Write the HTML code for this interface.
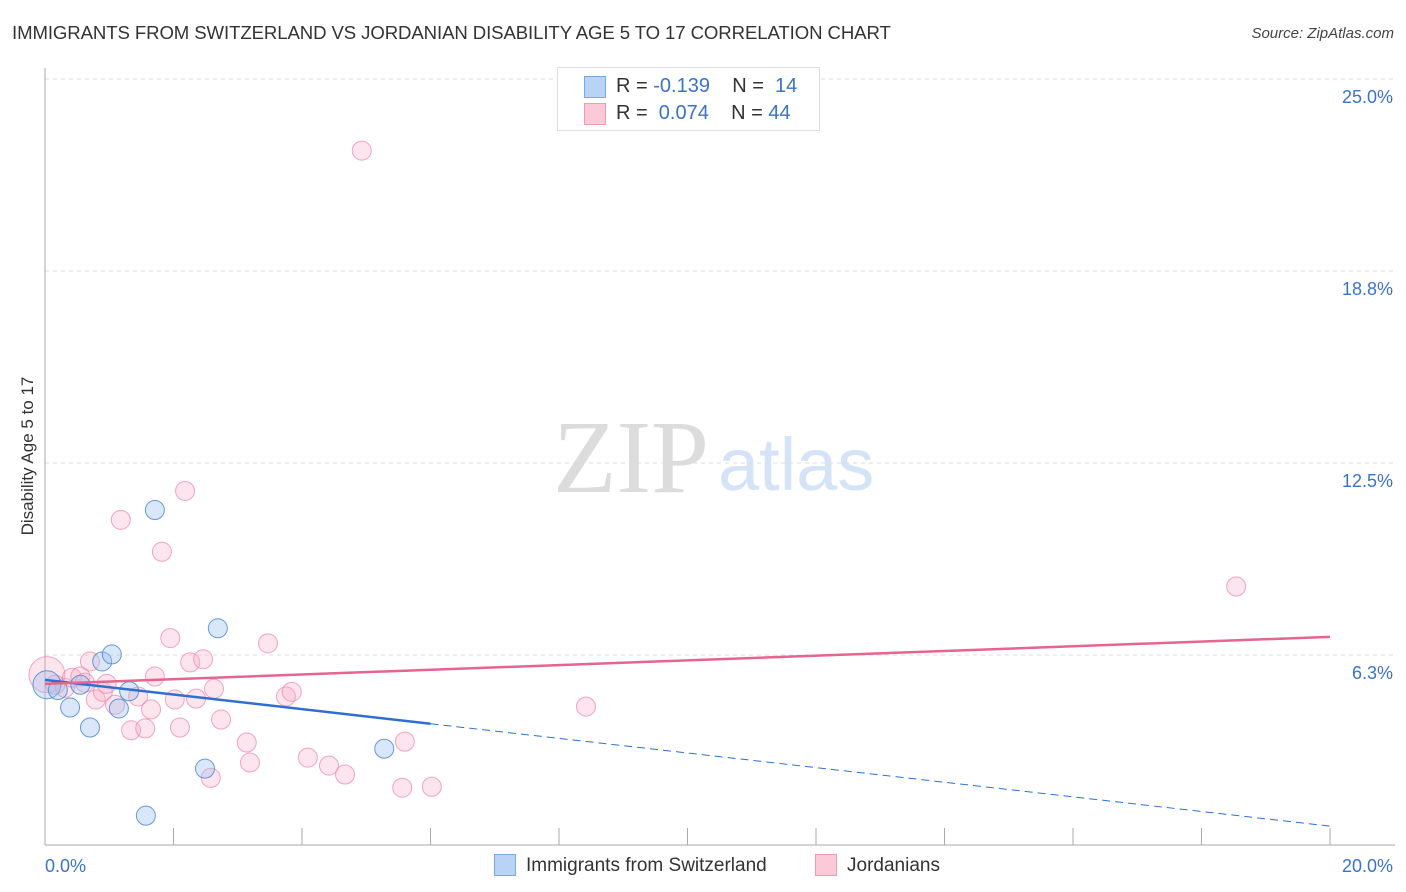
<!DOCTYPE html>
<html><head><meta charset="utf-8">
<style>
body{margin:0;background:#fff;font-family:"Liberation Sans",sans-serif;}
#wrap{position:relative;width:1406px;height:892px;overflow:hidden;}
.t{position:absolute;white-space:nowrap;}
</style></head>
<body>
<div id="wrap">
<div class="t" style="left:12px;top:22px;font-size:18.6px;color:#333;letter-spacing:-0.1px;">IMMIGRANTS FROM SWITZERLAND VS JORDANIAN DISABILITY AGE 5 TO 17 CORRELATION CHART</div>
<div class="t" style="right:12px;top:25px;font-size:15px;color:#444;font-style:italic;">Source: ZipAtlas.com</div>
<div class="t" style="left:28px;top:456px;font-size:17px;color:#333;transform:translate(-50%,-50%) rotate(-90deg);">Disability Age 5 to 17</div>
<svg id="plot" width="1406" height="892" style="position:absolute;left:0;top:0">
<text x="553" y="492" font-family="Liberation Serif,serif" font-size="104" fill="#dcdcdc">ZIP</text>
<text x="718" y="490" font-family="Liberation Sans,sans-serif" font-size="74" fill="#d4e3f5">atlas</text>
</svg>
<div style="position:absolute;left:557px;top:67px;width:261px;height:62px;border:1px solid #ddd;background:#fff;">
<div style="position:absolute;left:26px;top:8px;width:20px;height:20px;background:#b8d3f5;border:1px solid #7aa7e0;"></div>
<div class="t" style="left:58px;top:7px;font-size:20px;color:#333;">R = <span style="color:#3a73c9">-0.139</span>&nbsp;&nbsp;&nbsp; N = &nbsp;<span style="color:#3a73c9">14</span></div>
<div style="position:absolute;left:26px;top:35px;width:20px;height:20px;background:#fbc9d7;border:1px solid #f09ab4;"></div>
<div class="t" style="left:58px;top:34px;font-size:20px;color:#333;">R = &nbsp;<span style="color:#3a73c9">0.074</span>&nbsp;&nbsp;&nbsp; N = <span style="color:#3a73c9">44</span></div>
</div>
<div style="position:absolute;left:494px;top:854px;width:20px;height:20px;background:#b8d3f5;border:1px solid #7aa7e0;"></div>
<div class="t" style="left:526px;top:855px;font-size:19px;color:#333;">Immigrants from Switzerland</div>
<div style="position:absolute;left:815px;top:854px;width:20px;height:20px;background:#fbc9d7;border:1px solid #f09ab4;"></div>
<div class="t" style="left:847px;top:855px;font-size:19px;color:#333;">Jordanians</div>
</div>
<script>
const yTicks=[25,18.75,12.5,6.25];
const yTickLabels=["25.0%","18.8%","12.5%","6.3%"];
const xTicks=[0,2,4,6,8,10,12,14,16,18,20];
const xEndLabels=["0.0%","20.0%"];
const blueX=[0.03,0.2,0.55,0.39,0.7,0.89,1.04,1.15,1.31,1.71,2.69,2.49,1.57,5.28];
const blueY=[5.28,5.11,5.28,4.54,3.89,6.04,6.27,4.51,5.07,10.97,7.12,2.55,1.02,3.2];
const pinkX=[0.03,0.16,0.31,0.42,0.55,0.62,0.7,0.79,0.9,0.96,1.09,1.18,1.34,1.45,1.56,1.65,1.71,1.82,1.95,2.02,2.1,2.18,2.26,2.35,2.46,2.58,2.63,2.74,3.14,3.19,3.47,3.75,3.84,4.09,4.42,4.67,4.93,5.56,5.6,6.02,8.42,18.54];
const pinkY=[5.61,5.28,5.18,5.51,5.55,5.35,6.04,4.8,5.05,5.31,4.63,10.65,3.8,4.9,3.86,4.48,5.55,9.61,6.8,4.8,3.89,11.59,6.01,4.83,6.11,2.25,5.15,4.15,3.4,2.75,6.63,4.9,5.05,2.91,2.65,2.36,22.67,1.93,3.43,1.96,4.57,8.48];
const blueFit=[5.44,0.68];
const pinkFit=[5.31,6.84];
const X0=45,X1=1330,Y0=847,PXY=30.72;
const sx=v=>X0+(v/20)*(X1-X0);
const sy=v=>Y0-v*PXY;
const svg=document.getElementById('plot');
const NS='http://www.w3.org/2000/svg';
function mk(tag,attrs){const e=document.createElementNS(NS,tag);for(const k in attrs)e.setAttribute(k,attrs[k]);svg.appendChild(e);return e;}
yTicks.forEach((v,i)=>{
 const g=mk('line',{x1:45,x2:1395,y1:sy(v),y2:sy(v),stroke:'#ddd','stroke-dasharray':'4,4'});
 
 
 const t=mk('text',{x:1393,y:sy(v)+24,'text-anchor':'end','font-size':18,fill:'#3a73c9','font-family':'Liberation Sans,sans-serif'});
 t.textContent=yTickLabels[i];
 
 
});
const ax=mk('line',{x1:45,x2:45,y1:68,y2:845,stroke:'#aaa'});


const bx=mk('line',{x1:45,x2:1395,y1:845,y2:845,stroke:'#aaa'});


xTicks.forEach((v,i)=>{if(i===0)return;
 const t=mk('line',{x1:sx(v),x2:sx(v),y1:828,y2:845,stroke:'#aaa'});
 
 
});
[[0,'start',45],[20,'end',1393]].forEach((a,i)=>{
 const t=mk('text',{x:a[2],y:872,'text-anchor':a[1],'font-size':18,fill:'#3a73c9','font-family':'Liberation Sans,sans-serif'});
 t.textContent=xEndLabels[i];
 
 
});
pinkX.forEach((x,i)=>{
 const r=i===0?18:9.5;
 const c=mk('circle',{cx:sx(x),cy:sy(pinkY[i]),r:r,fill:'rgba(248,170,195,0.3)',stroke:'rgba(235,130,165,0.7)','stroke-width':1});
 
 
});
blueX.forEach((x,i)=>{
 const r=i===0?14:9.5;
 const c=mk('circle',{cx:sx(x),cy:sy(blueY[i]),r:r,fill:'rgba(160,195,240,0.4)',stroke:'rgba(70,130,210,0.8)','stroke-width':1});
 
 
});
const bAt=x=>blueFit[0]+(blueFit[1]-blueFit[0])*x/20;
const bl=mk('line',{x1:sx(0),y1:sy(bAt(0)),x2:sx(6),y2:sy(bAt(6)),stroke:'#2f6fd0','stroke-width':2.5});


const bd=mk('line',{x1:sx(6),y1:sy(bAt(6)),x2:sx(20),y2:sy(bAt(20)),stroke:'#2f6fd0','stroke-width':1,'stroke-dasharray':'8,5'});


const pl=mk('line',{x1:sx(0),y1:sy(pinkFit[0]),x2:sx(20),y2:sy(pinkFit[1]),stroke:'#e6648e','stroke-width':2.5});


</script>
</body></html>
